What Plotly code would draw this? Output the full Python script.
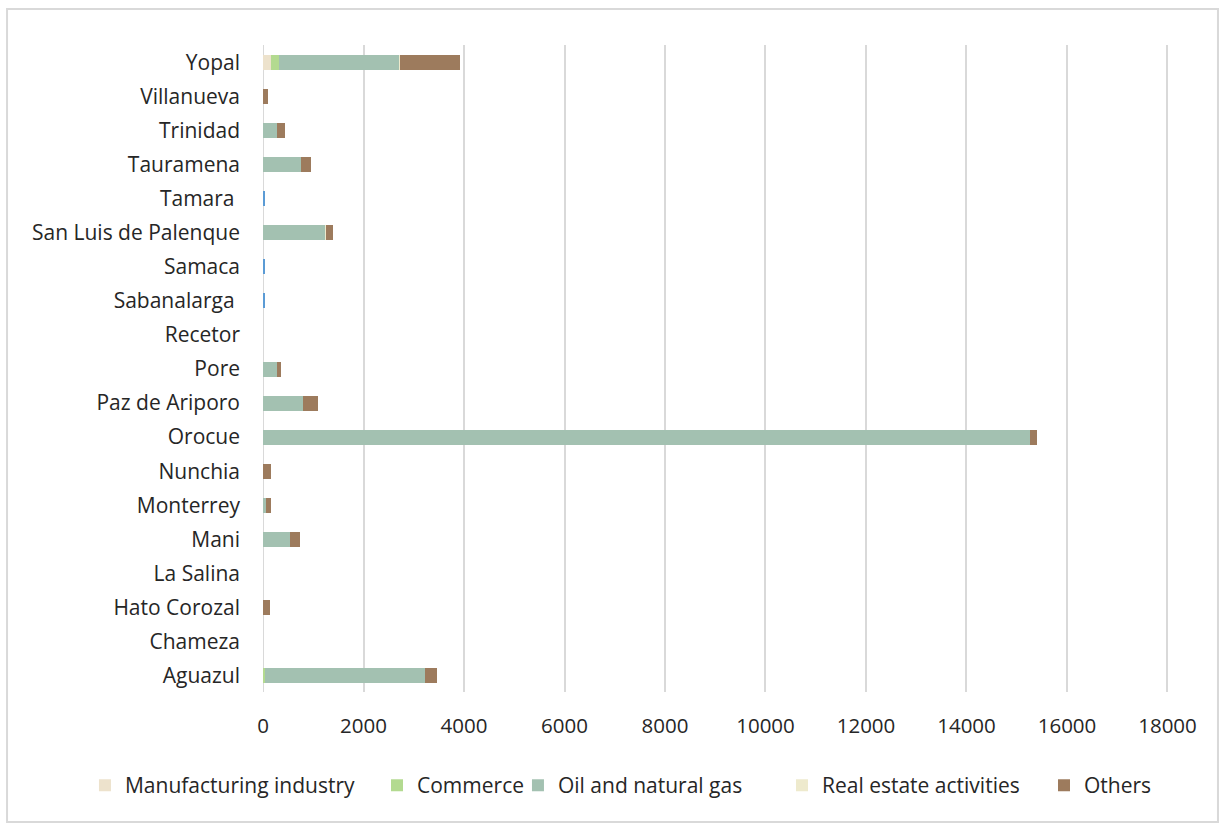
import plotly.graph_objects as go

municipalities = ["Aguazul", "Chameza", "Hato Corozal", "La Salina", "Mani", "Monterrey",
                  "Nunchia", "Orocue", "Paz de Ariporo", "Pore", "Recetor", "Sabanalarga ",
                  "Samaca", "San Luis de Palenque", "Tamara ", "Tauramena", "Trinidad",
                  "Villanueva", "Yopal"]

manufacturing = [0, 0, 0, 0, 0, 0, 0, 0, 0, 0, 0, 0, 0, 0, 0, 0, 0, 0, 160]
commerce = [30, 0, 0, 0, 0, 0, 0, 0, 0, 0, 0, 0, 0, 0, 0, 0, 0, 0, 150]
oil_gas = [3200, 0, 0, 0, 540, 60, 0, 15270, 790, 280, 0, 0, 0, 1240, 0, 750, 280, 0, 2400]
real_estate = [0, 0, 0, 0, 0, 0, 0, 0, 0, 0, 0, 0, 0, 20, 0, 0, 0, 0, 20]
others = [230, 0, 140, 0, 190, 100, 160, 130, 300, 80, 0, 0, 0, 140, 0, 210, 160, 100, 1200]
unlabeled = [0, 0, 0, 0, 0, 0, 0, 0, 0, 0, 0, 30, 30, 0, 30, 0, 0, 0, 0]

x_ticks = [0, 2000, 4000, 6000, 8000, 10000, 12000, 14000, 16000, 18000]

series = [
    ("Manufacturing industry", manufacturing, "#EDE2CC", "legend"),
    ("Commerce", commerce, "#B3DA90", "legend2"),
    ("Oil and natural gas", oil_gas, "#A3C1B1", "legend3"),
    ("Real estate activities", real_estate, "#EEEACD", "legend4"),
    ("Others", others, "#9D7B5D", "legend5"),
    ("", unlabeled, "#5B9BD5", None),
]

fig = go.Figure()
for name, vals, color, leg in series:
    kw = dict(legend=leg, showlegend=True) if leg else dict(showlegend=False)
    fig.add_trace(go.Bar(
        y=municipalities, x=vals, name=name, orientation="h",
        marker=dict(color=color, line=dict(width=0)),
        **kw,
    ))

legend_x = {"legend": -0.1963, "legend2": 0.1257, "legend3": 0.2811,
            "legend4": 0.5722, "legend5": 0.8611}
legend_common = dict(orientation="h", xanchor="left", y=-0.113, yanchor="top",
                     font=dict(size=21, color="#262626"), bgcolor="rgba(0,0,0,0)")

fig.update_layout(
    barmode="stack",
    bargap=0.56,
    width=1224, height=827,
    margin=dict(l=263, r=54, t=45, b=135),
    paper_bgcolor="white",
    plot_bgcolor="white",
    font=dict(family="Open Sans", size=21, color="#262626"),
    xaxis=dict(
        range=[0, 18050],
        tickvals=x_ticks,
        ticktext=[str(v) for v in x_ticks],
        showgrid=True, gridcolor="#D9D9D9", gridwidth=2,
        zeroline=False, showline=False,
        ticks="", ticklabelstandoff=19,
        tickfont=dict(size=20.5, color="#262626"),
    ),
    yaxis=dict(
        showgrid=False, zeroline=False, showline=False,
        ticks="", ticklabelstandoff=22,
        tickfont=dict(size=21, color="#262626"),
        range=[-0.484, 18.514],
    ),
    shapes=[
        dict(type="rect", xref="paper", yref="paper",
             x0=-0.2822, x1=1.0529, y0=-0.2009, y1=1.0556,
             line=dict(color="#D9D9D9", width=2), fillcolor="rgba(0,0,0,0)", layer="below"),
        dict(type="line", xref="x", yref="paper", x0=0, x1=0, y0=0, y1=1,
             line=dict(color="#D9D9D9", width=2), layer="below"),
    ],
)
for key, xv in legend_x.items():
    fig.update_layout({key: dict(x=xv, **legend_common)})

fig.write_html("out.html")
